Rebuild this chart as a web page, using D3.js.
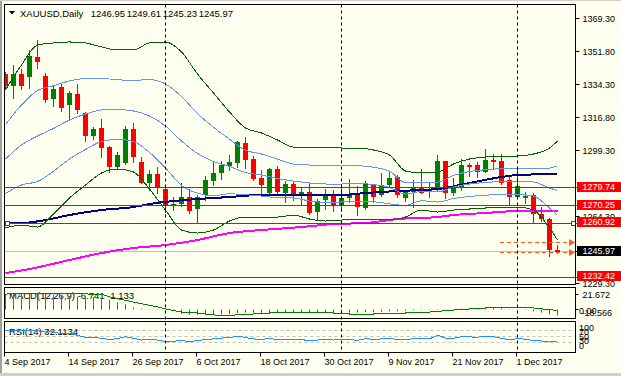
<!DOCTYPE html>
<html><head><meta charset="utf-8">
<script src="https://cdnjs.cloudflare.com/ajax/libs/d3/7.8.5/d3.min.js"></script>
<style>
html,body{margin:0;padding:0;background:#fffff0;overflow:hidden;}
svg{display:block;font-family:"Liberation Sans",Arial,sans-serif;}
</style></head><body><div id="chart"></div>
<script>
// chart size
const W = 621, H = 376

// OHLC, 4 Sep 2017 .. 8 Dec 2017 (daily)
const open  = [1339.86,1333.51,1339.86,1338.27,1348.85,1338.80,1326.64,1332.98,1323.46,1329.28,
  1319.23,1307.07,1311.30,1301.25,1290.67,1292.79,1310.77,1293.31,1282.21,1286.97,
  1279.04,1270.58,1271.11,1274.81,1268.46,1275.87,1283.27,1287.50,1291.20,1292.79,
  1303.36,1294.90,1284.86,1276.93,1289.61,1276.93,1281.69,1275.87,1277.46,1266.88,
  1273.23,1276.40,1270.58,1274.28,1276.93,1268.99,1281.69,1275.87,1281.16,1285.39,
  1274.28,1277.46,1280.10,1277.46,1278.51,1293.84,1276.93,1279.57,1291.73,1291.73,
  1288.03,1294.37,1293.84,1283.80,1274.81,1274.28,1275.87,1265.82,1263.17,1246.95]
const high  = [1340.90,1344.62,1342.50,1352.55,1357.84,1340.38,1333.51,1334.57,1330.87,1334.57,
  1319.76,1311.83,1316.06,1301.78,1298.61,1312.36,1313.94,1295.96,1289.09,1290.67,
  1279.57,1274.81,1282.21,1279.04,1275.87,1285.92,1293.84,1293.84,1297.02,1304.20,
  1306.54,1296.49,1289.09,1289.90,1291.20,1283.27,1283.27,1279.57,1282.21,1273.75,
  1279.04,1278.51,1281.69,1284.33,1280.63,1283.27,1281.90,1287.50,1288.56,1286.44,
  1278.20,1283.80,1289.61,1282.21,1297.02,1294.10,1284.86,1294.90,1292.79,1293.31,
  1300.19,1297.55,1297.55,1285.39,1289.61,1277.46,1276.93,1269.52,1263.70,1249.61]
const low   = [1331.92,1327.20,1331.92,1332.45,1343.03,1325.05,1322.90,1320.29,1315.53,1319.23,
  1304.42,1305.48,1295.96,1288.03,1290.40,1292.50,1293.31,1282.00,1278.51,1276.93,
  1266.88,1267.94,1270.05,1266.35,1261.06,1273.23,1281.16,1284.33,1289.09,1290.67,
  1290.14,1283.80,1276.40,1276.40,1276.93,1272.17,1273.23,1270.58,1265.82,1263.17,
  1268.46,1267.41,1267.41,1272.17,1265.29,1268.70,1272.17,1275.34,1280.10,1274.81,
  1272.70,1269.52,1276.70,1274.81,1278.30,1274.28,1275.87,1278.51,1285.92,1285.39,
  1287.80,1290.14,1281.69,1270.58,1274.28,1271.64,1261.06,1262.12,1243.61,1245.23]
const close = [1333.51,1339.86,1333.51,1349.38,1346.20,1326.11,1331.92,1321.88,1329.81,1320.82,
  1307.07,1310.77,1300.72,1290.67,1297.02,1310.77,1295.96,1282.21,1286.97,1279.57,
  1270.58,1271.11,1274.81,1267.41,1274.81,1283.80,1287.50,1291.73,1293.31,1303.89,
  1294.37,1284.33,1281.16,1289.61,1277.46,1281.69,1275.87,1277.46,1266.35,1272.70,
  1276.40,1270.58,1274.28,1275.87,1269.52,1281.69,1274.81,1281.16,1284.86,1275.87,
  1277.98,1280.10,1276.93,1279.04,1293.84,1276.93,1280.10,1291.73,1290.67,1288.03,
  1294.37,1293.31,1282.21,1274.81,1280.63,1275.34,1265.82,1263.17,1246.95,1245.97]

// time axis
const tickBars   = [0, 8, 16, 24, 32, 40, 48, 56, 64]
const tickLabels = ["4 Sep 2017","14 Sep 2017","26 Sep 2017","6 Oct 2017","18 Oct 2017",
  "30 Oct 2017","9 Nov 2017","21 Nov 2017","1 Dec 2017"]
const monthBars  = [20, 42, 64]

// price axis (1281.80 and 1246.80 sit under the level tags)
const priceTicks = [1369.30,1351.80,1334.30,1316.80,1299.30,1264.30,1229.30]
const levels     = [1279.74, 1270.25, 1260.92, 1232.42]
const bid        = 1245.97
const orderLines = [1251.00, 1245.30]

// bollinger bands (read every two bars)
const bbBars = [0,2,4,6,8,10,12,14,16,18,20,22,24,26,28,30,32,34,36,38,40,42,44,46,48,50,52,54,56,58,60,62,64,66,68,69]
const bbUp2 = [1331.40,1344.62,1355.19,1356.25,1356.78,1356.25,1354.14,1352.55,1352.55,1356.25,1356.78,1351.49,
  1339.86,1329.81,1319.76,1311.30,1308.66,1304.96,1301.25,1301.25,1301.25,1300.72,1300.72,1299.67,
  1297.02,1288.56,1287.50,1288.03,1292.26,1294.91,1295.97,1296.49,1296.49,1297.55,1300.72,1304.43]
const bbUp1 = [1313.15,1323.46,1331.13,1333.64,1336.16,1337.48,1337.48,1336.82,1336.42,1336.95,1334.57,1327.96,
  1318.84,1311.70,1305.35,1299.54,1297.55,1294.78,1292.26,1291.73,1291.47,1291.21,1291.34,1290.55,
  1288.43,1282.48,1282.61,1282.74,1286.18,1288.30,1289.22,1289.75,1289.75,1290.15,1290.15,1291.34]
const bbMid = [1294.91,1302.31,1307.07,1311.04,1315.53,1318.70,1320.82,1321.08,1320.29,1317.65,1312.36,1304.43,
  1297.82,1293.59,1290.94,1287.77,1286.45,1284.60,1283.27,1282.22,1281.69,1281.69,1281.95,1281.42,
  1279.84,1276.40,1277.72,1277.46,1280.10,1281.69,1282.48,1283.01,1283.01,1282.74,1279.57,1278.25]
const bbLo1 = [1276.66,1281.16,1283.01,1288.43,1294.91,1299.93,1304.16,1305.35,1304.16,1298.34,1290.15,1280.89,
  1276.80,1275.47,1276.53,1276.00,1275.34,1274.42,1274.28,1272.70,1271.90,1272.17,1272.57,1272.30,
  1271.24,1270.32,1272.83,1272.17,1274.02,1275.08,1275.74,1276.27,1276.27,1275.34,1268.99,1265.16]
const bbLo2 = [1258.42,1260.01,1258.95,1265.82,1274.28,1281.16,1287.50,1289.62,1288.03,1279.04,1267.94,1257.36,
  1255.77,1257.36,1262.12,1264.24,1264.24,1264.24,1265.29,1263.18,1262.12,1262.65,1263.18,1263.18,
  1262.65,1264.24,1267.94,1266.88,1267.94,1268.47,1269.00,1269.52,1269.52,1267.94,1258.42,1252.07]

// moving averages
const ma100Bars = [0,2,5,8,12,16,18,21,24,28,32,37,42,45,49,54,58,62,64,69]
const ma100 = [1261.06,1261.06,1262.65,1265.29,1267.94,1269.52,1271.11,1272.70,1273.75,1274.81,
  1275.87,1275.87,1275.87,1276.93,1277.98,1279.04,1282.21,1285.39,1286.45,1286.97]
const ma200Bars = [0,3,8,12,16,20,24,28,32,37,41,45,49,54,56,60,64,69]
const ma200 = [1234.62,1236.74,1241.50,1245.20,1247.84,1249.43,1252.07,1255.77,1257.36,1258.95,
  1260.53,1261.06,1263.18,1264.24,1265.29,1266.35,1267.41,1267.41]

// MACD(12,26,9)
const macdHist = [17,17,17,18,18,17,16,15,14.5,14,13.5,14,13,11,8,6,2,1,0.5,0.3,
  -0.3,-2,-5,-6,-6,-6,-6,-5.5,-5,-4,-3.5,-3.5,-4,-4,-4,-4,-4,-4,-4.5,-4.5,
  -4,-4,-4,-3.5,-3.5,-3,-3,-2.5,-2,-2,-1.5,-1,-0.5,-0.5,0.5,0.3,0.5,1,1.5,1.5,
  1.5,2,1.5,0.5,0.3,-0.5,-2,-3.5,-5.5,-6.741]
const sigBars = [0,4,8,12,13,16,19,20,22,24,27,28,33,35,39,43,46,50,53,56,58,60,66,69]
const sigVals = [17.2,17.5,17.5,17,14,8.3,2.8,0.6,-2.8,-3.9,-7,-6.5,-3.9,-2.8,-2.8,-5,-5,-3.9,-2.8,-0.6,0.6,1.7,1.7,-1.133]

// RSI(14)
const rsi = [73,70,70,72,71,66,67,60,62,55,47,48,44,40,43,50,44,38,41,38,
  33,34,36,33,36,40,42,45,46,52,47,42,40,44,39,40,39,40,35,38,
  40,38,40,40,37,43,40,42,44,40,41,42,42,42,55,45,44,50,49,48,
  51,50,44,39,43,41,36,35,31,32.11]
const rsiLevels = [70, 50, 30]

// colours
const bg = "#fffff0"
const bull = "#008000", bear = "#ff0000"

const svg = d3.select("#chart").append("svg").attr("width", W).attr("height", H)
svg.append("rect").attr("width", W).attr("height", H).attr("fill", bg)
// window edge
svg.append("rect").attr("x", 0).attr("y", 0).attr("width", 2).attr("height", H).attr("fill", "#a0a0a0")
svg.append("rect").attr("x", 0).attr("y", 0).attr("width", W).attr("height", 1).attr("fill", "#d4d0c8")
svg.append("rect").attr("x", 0).attr("y", H - 3).attr("width", W).attr("height", 3).attr("fill", "#d4d0c8")

// panels
const L = 4.5, R = 575.5
const mainP = {top: 4.5, bot: 284.5}, macdP = {top: 287.5, bot: 318.5}, rsiP = {top: 321.5, bot: 352.5}

const x = d3.scaleLinear().domain([0, 69]).range([5.5, 557.5])
const y = d3.scaleLinear().domain([1299.30, 1369.30]).range([150.7, 18.3])
const yM = d3.scaleLinear().domain([0, 10]).range([309.5, 300.5])
const yR = d3.scaleLinear().domain([0, 100]).range([350.8, 322.5])
const px = v => Math.floor(v) + 0.5

const defs = svg.append("defs")
function clip(id, p){
    defs.append("clipPath").attr("id", id).append("rect")
        .attr("x", L).attr("y", p.top).attr("width", R - L).attr("height", p.bot - p.top)
    return svg.append("g").attr("clip-path", "url(#" + id + ")")
}

// ---------- main chart ----------
const gm = clip("cm", mainP)

// bid line
gm.append("line").attr("x1", L).attr("x2", R).attr("y1", px(y(bid))).attr("y2", px(y(bid)))
    .attr("stroke", "#c0c0c0")

// candles
d3.range(open.length).forEach(i => {
    const up = close[i] >= open[i], col = up ? bull : bear
    gm.append("line").attr("x1", px(x(i))).attr("x2", px(x(i)))
        .attr("y1", Math.round(y(high[i]))).attr("y2", Math.round(y(low[i])) + 1)
        .attr("stroke", col)
    const t = Math.round(y(Math.max(open[i], close[i]))), b = Math.round(y(Math.min(open[i], close[i])))
    gm.append("rect").attr("x", Math.floor(x(i)) - 2).attr("y", t)
        .attr("width", 5).attr("height", Math.max(1, b - t)).attr("fill", col)
})

// indicator lines
function series(g, bars, vals, sy, color, w){
    g.append("path").datum(bars.map((b, k) => [b, vals[k]]))
        .attr("fill", "none").attr("stroke", color).attr("stroke-width", w)
        .attr("shape-rendering", "crispEdges")
        .attr("d", d3.line().x(d => x(d[0])).y(d => sy(d[1])).curve(d3.curveMonotoneX))
}
series(gm, ma200Bars, ma200, y, "#ff00ff", 2)
series(gm, ma100Bars, ma100, y, "#000080", 2)
series(gm, bbBars, bbUp1, y, "#6495ed", 1)
series(gm, bbBars, bbMid, y, "#6495ed", 1)
series(gm, bbBars, bbLo1, y, "#6495ed", 1)
series(gm, bbBars, bbUp2, y, "#006400", 1)
series(gm, bbBars, bbLo2, y, "#006400", 1)

// horizontal levels
levels.forEach(v => {
    gm.append("line").attr("x1", L).attr("x2", R).attr("y1", px(y(v))).attr("y2", px(y(v)))
        .attr("stroke", "#ff0000")
})
// selected level markers
const sel = y(1260.92)
;[5, 571].forEach(sx => {
    gm.append("rect").attr("x", sx + 0.5).attr("y", Math.floor(sel) - 1.5).attr("width", 4).attr("height", 4)
        .attr("fill", bg).attr("stroke", "#ff0000")
})
// order lines with arrows
orderLines.forEach(v => {
    const yy = px(y(v))
    gm.append("line").attr("x1", 500).attr("x2", 570).attr("y1", yy).attr("y2", yy)
        .attr("stroke", "#ff5a1a").attr("stroke-dasharray", "4,3")
    gm.append("path").attr("d", `M569,${yy - 3.5}L575,${yy}L569,${yy + 3.5}Z`).attr("fill", "#ff5a1a")
})

// ---------- MACD ----------
const gmacd = clip("cmacd", macdP)
gmacd.append("text").attr("x", 9).attr("y", 298.5).attr("font-size", 9.5).attr("fill", "#000")
    .text("MACD(12,26,9) -6.741 -1.133")
macdHist.forEach((v, i) => {
    gmacd.append("line").attr("x1", px(x(i))).attr("x2", px(x(i)))
        .attr("y1", yM(0)).attr("y2", yM(v)).attr("stroke", "#9932cc")
})
gmacd.append("path").datum(sigBars.map((b, k) => [b, sigVals[k]]))
    .attr("fill", "none").attr("stroke", "#008000").attr("shape-rendering", "crispEdges")
    .attr("d", d3.line().x(d => x(d[0])).y(d => yM(d[1])))

// ---------- RSI ----------
const grsi = clip("crsi", rsiP)
rsiLevels.forEach(v => {
    grsi.append("line").attr("x1", L).attr("x2", R).attr("y1", px(yR(v))).attr("y2", px(yR(v)))
        .attr("stroke", "#c0c0c0").attr("stroke-dasharray", "3,3")
})
grsi.append("text").attr("x", 9).attr("y", 334.5).attr("font-size", 9.5).attr("fill", "#000")
    .text("RSI(14) 32.1134")
grsi.append("path").datum(rsi)
    .attr("fill", "none").attr("stroke", "#1e90ff").attr("shape-rendering", "crispEdges")
    .attr("d", d3.line().x((d, i) => x(i)).y(d => yR(d)))

// period separators
monthBars.forEach(b => {
    svg.append("line").attr("x1", px(x(b))).attr("x2", px(x(b))).attr("y1", mainP.top).attr("y2", rsiP.bot)
        .attr("stroke", "#000").attr("stroke-dasharray", "3,3")
})

// frames
;[mainP, macdP, rsiP].forEach(p => {
    svg.append("rect").attr("x", L).attr("y", p.top).attr("width", R - L).attr("height", p.bot - p.top)
        .attr("fill", "none").attr("stroke", "#000")
})

// title
svg.append("path").attr("d", "M9,11L15,11L12,14.5Z").attr("fill", "#000")
const title = svg.append("g").attr("font-size", 9.5).attr("fill", "#000")
title.append("text").attr("x", 20).attr("y", 16.5).text("XAUUSD,Daily")
;["1246.95", "1249.61", "1245.23", "1245.97"].forEach((t, k) => {
    title.append("text").attr("x", 90.7 + 36 * k).attr("y", 16.5).text(t)
})

// price axis
const ax = svg.append("g").attr("font-size", 9)
priceTicks.forEach(v => {
    const yy = px(y(v))
    ax.append("line").attr("x1", R).attr("x2", R + 4).attr("y1", yy).attr("y2", yy).attr("stroke", "#000")
    ax.append("text").attr("x", 582.5).attr("y", yy).attr("dy", "0.35em").text(v.toFixed(2))
})
function tag(v, fill){
    const yy = y(v)
    ax.append("line").attr("x1", R).attr("x2", R + 3).attr("y1", px(yy)).attr("y2", px(yy)).attr("stroke", fill)
    ax.append("rect").attr("x", 577).attr("y", Math.round(yy) - 6).attr("width", 44).attr("height", 10).attr("fill", fill)
    ax.append("text").attr("x", 582.5).attr("y", yy - 1).attr("dy", "0.35em").attr("fill", "#fff").text(v.toFixed(2))
}
levels.forEach(v => tag(v, "#ff0000"))
tag(bid, "#000")

// sub-window scales
const sub = svg.append("g").attr("font-size", 9)
;[["21.672", 582.5, 294.5], ["0.00", 579, 310.5], ["-18.566", 581.5, 313]].forEach(d => {
    sub.append("text").attr("x", d[1]).attr("y", d[2]).attr("dy", "0.35em").text(d[0])
})
;[["100", 579, 327.5], ["70", 579, 332], ["50", 579, 336.5], ["30", 579, 341], ["0", 579, 346]].forEach(d => {
    sub.append("text").attr("x", d[1]).attr("y", d[2]).attr("dy", "0.35em").text(d[0])
})
sub.append("line").attr("x1", R).attr("x2", R + 3).attr("y1", 294.5).attr("y2", 294.5).attr("stroke", "#000")
sub.append("line").attr("x1", R).attr("x2", R + 3).attr("y1", 309.5).attr("y2", 309.5).attr("stroke", "#000")

// time axis
const tx = svg.append("g").attr("font-size", 9)
tickBars.forEach((b, k) => {
    const xx = px(x(b)) - 1
    tx.append("line").attr("x1", xx).attr("x2", xx).attr("y1", rsiP.bot).attr("y2", rsiP.bot + 4).attr("stroke", "#000")
    tx.append("text").attr("x", xx).attr("y", 365).text(tickLabels[k])
})
</script></body></html>
